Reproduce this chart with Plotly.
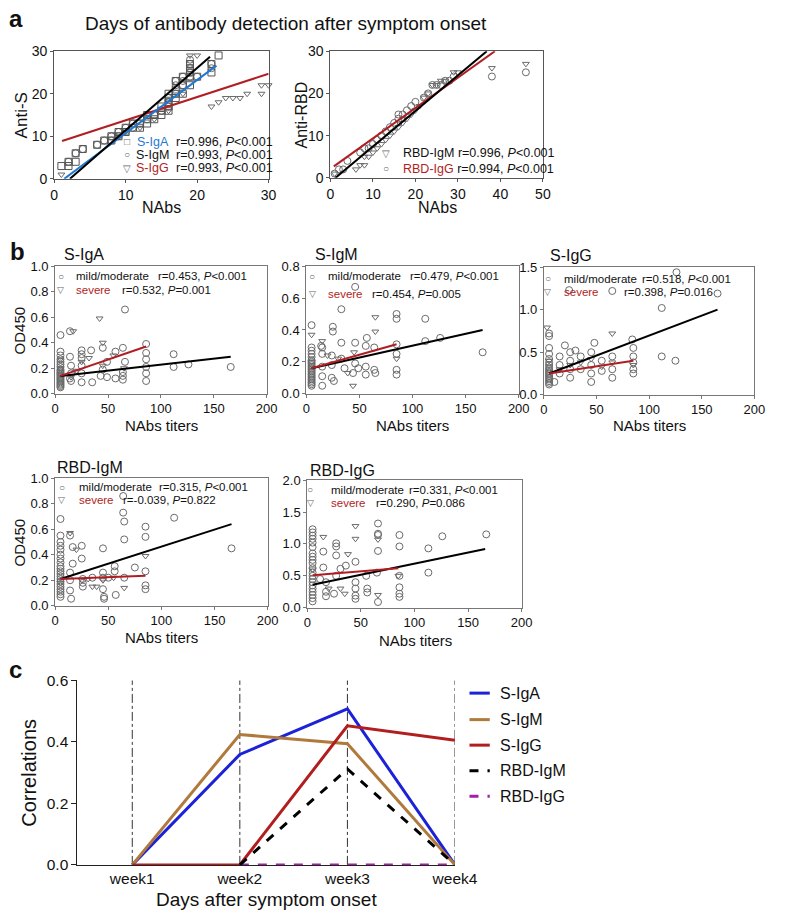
import plotly.graph_objects as go

W, H = 788, 920
FONT = "Liberation Sans, Arial, Helvetica, sans-serif"
GRAY = "#6a6a6a"
RED = "#b01e23"
BLUE_A = "#1f78d1"

# ---------------- Panel a data ----------------
a1_IgA_x = [1, 2, 2, 3, 3, 4, 6, 7, 8, 8, 9, 9, 10, 10, 11, 11, 12, 12, 13, 13, 13, 14, 14, 15, 15, 15,
            16, 16, 16, 16, 16, 17, 17, 17, 17, 18, 18, 18, 19, 19, 19, 19, 19, 20, 22, 22, 23]
a1_IgA_y = [3, 3, 4, 4, 6, 7, 8, 9, 10, 9, 11, 10, 12, 11, 12, 13, 12, 13, 13, 14, 15, 14, 15, 15, 16, 17,
            16, 17, 18, 19, 20, 19, 20, 21, 23, 20, 22, 24, 22, 24, 25, 26, 27, 24, 25, 27, 29]
a1_IgM_x = [2, 3, 4, 6, 7, 8, 8, 9, 9, 10, 10, 11, 11, 12, 13, 13, 14, 15, 16, 16, 16, 17, 17, 17, 18, 18,
            18, 19, 19, 19, 19, 19, 20, 22, 22]
a1_IgM_y = [4, 6, 7, 8, 9, 9, 10, 10, 11, 11, 12, 12, 13, 13, 14, 15, 15, 16, 17, 18, 19, 20, 22, 23, 22, 23,
            24, 24, 25, 26, 27, 28, 24, 26, 27]
a1_IgG_x = [1, 9, 10, 12, 14, 16, 18, 19, 20, 22, 23, 24, 25, 26, 27, 29, 29, 30]
a1_IgG_y = [1, 10, 11, 12, 14, 16, 20, 29, 29, 17, 18, 19, 19, 19, 20, 20, 22, 22]
a1_fit_IgA_x, a1_fit_IgA_y = [1.4, 22.7], [0, 26.6]
a1_fit_IgM_x, a1_fit_IgM_y = [2.2, 21.8], [0, 28.7]
a1_fit_IgG_x, a1_fit_IgG_y = [1.1, 30], [8.9, 24.7]

a2_IgG_x = [1, 2, 3, 4, 7, 8, 9, 10, 11, 12, 13, 14, 15, 16, 16, 17, 18, 19, 20, 22, 23, 24, 25, 26, 27, 28, 29, 38, 46]
a2_IgG_y = [1, 2, 2, 4, 6, 7, 7, 8, 9, 10, 11, 12, 13, 14, 15, 15, 16, 17, 18, 19, 20, 22, 22, 22, 23, 23, 24, 24, 25]
a2_IgM_x = [1, 6, 7, 8, 8, 9, 10, 11, 12, 13, 14, 15, 16, 17, 18, 19, 20, 21, 22, 23, 24, 25, 26, 27, 29, 30, 38, 46]
a2_IgM_y = [1, 2, 3, 3, 5, 5, 6, 7, 8, 9, 10, 11, 12, 13, 14, 15, 16, 17, 19, 20, 22, 22, 23, 23, 25, 25, 26, 27]
a2_fit_IgM_x, a2_fit_IgM_y = [1.2, 36.8], [0, 30]
a2_fit_IgG_x, a2_fit_IgG_y = [0.8, 38.7], [2.7, 30]

# ---------------- Panel b data ----------------
b1_mild_x = [5]*22 + [14, 14, 15, 15, 14, 15, 25, 25, 25, 25, 25, 25, 34, 35, 43, 45, 45, 49, 49, 57, 57, 64,
                      64, 64, 64, 66, 66, 86, 86, 86, 86, 86, 86, 112, 112, 126, 166]
b1_mild_y = [0.46, 0.33, 0.30, 0.27, 0.25, 0.23, 0.21, 0.19, 0.18, 0.17, 0.16, 0.15, 0.14, 0.13, 0.12, 0.11,
             0.10, 0.09, 0.08, 0.07, 0.06, 0.05,
             0.49, 0.29, 0.22, 0.16, 0.12, 0.10, 0.34, 0.31, 0.28, 0.22, 0.16, 0.09, 0.34, 0.09, 0.14, 0.36,
             0.19, 0.25, 0.13, 0.33, 0.12, 0.36, 0.17, 0.14, 0.11, 0.25, 0.66, 0.39, 0.32, 0.27, 0.21, 0.16,
             0.10, 0.31, 0.21, 0.23, 0.21]
b1_sev_x = [5, 17, 42, 45, 32, 5, 5, 15, 25, 45, 55, 65, 20]
b1_sev_y = [0.27, 0.49, 0.59, 0.40, 0.28, 0.20, 0.15, 0.13, 0.25, 0.22, 0.30, 0.20, 0.18]
b1_fit_mild_x, b1_fit_mild_y = [5, 166], [0.14, 0.29]
b1_fit_sev_x, b1_fit_sev_y = [5, 86], [0.14, 0.37]

b2_mild_x = [5]*22 + [46, 33, 85, 85, 112, 25, 25, 15, 14, 33, 46, 57, 64, 126, 112, 166, 15, 15, 15, 15, 24,
                      24, 24, 26, 33, 36, 44, 46, 49, 56, 56, 56, 64, 65, 85, 85, 85, 85]
b2_mild_y = [0.43, 0.29, 0.27, 0.25, 0.23, 0.21, 0.20, 0.19, 0.18, 0.17, 0.16, 0.15, 0.14, 0.13, 0.12, 0.11,
             0.10, 0.09, 0.08, 0.07, 0.06, 0.05,
             0.67, 0.53, 0.50, 0.47, 0.47, 0.42, 0.39, 0.29, 0.30, 0.32, 0.32, 0.35, 0.29, 0.35, 0.33, 0.26,
             0.25, 0.17, 0.11, 0.05, 0.24, 0.18, 0.10, 0.08, 0.22, 0.16, 0.13, 0.19, 0.16, 0.30, 0.17, 0.12,
             0.15, 0.13, 0.31, 0.25, 0.15, 0.12]
b2_sev_x = [5, 65, 65, 15, 39, 44, 30, 5, 20, 45, 85]
b2_sev_y = [0.37, 0.48, 0.39, 0.33, 0.13, 0.05, 0.22, 0.20, 0.24, 0.26, 0.22]
b2_fit_mild_x, b2_fit_mild_y = [5, 166], [0.16, 0.40]
b2_fit_sev_x, b2_fit_sev_y = [5, 85], [0.16, 0.31]

b3_mild_x = [5]*18 + [24, 65, 112, 165, 126, 48, 84, 15, 15, 15, 25, 25, 25, 25, 35, 35, 45, 45, 45, 45, 55, 55,
                      65, 65, 65, 85, 85, 85, 85, 85, 112, 125, 10, 30, 20]
b3_mild_y = [0.72, 0.69, 0.55, 0.48, 0.42, 0.38, 0.35, 0.32, 0.30, 0.28, 0.26, 0.24, 0.22, 0.20, 0.18, 0.16,
             0.14, 0.12,
             1.23, 1.22, 1.02, 1.19, 1.44, 0.61, 0.65, 0.45, 0.35, 0.25, 0.50, 0.40, 0.30, 0.20, 0.45, 0.30,
             0.50, 0.35, 0.25, 0.15, 0.40, 0.28, 0.45, 0.30, 0.20, 0.55, 0.45, 0.38, 0.30, 0.25, 0.45, 0.40,
             0.15, 0.52, 0.58]
b3_sev_x = [3, 65, 5, 15, 25, 35, 45, 55, 65, 85]
b3_sev_y = [0.79, 0.72, 0.40, 0.30, 0.35, 0.38, 0.42, 0.33, 0.38, 0.35]
b3_fit_mild_x, b3_fit_mild_y = [5, 165], [0.25, 1.00]
b3_fit_sev_x, b3_fit_sev_y = [5, 85], [0.25, 0.40]

b4_mild_x = [5]*21 + [64, 14, 16.5, 25, 25, 16.5, 14, 14, 14, 15, 26, 26, 26, 45, 45, 45, 45, 46, 46, 57, 56, 56,
                      64, 65, 65, 65, 85, 85, 85, 85, 85, 112, 166, 35, 50, 75]
b4_mild_y = [0.68, 0.55, 0.50, 0.47, 0.44, 0.40, 0.37, 0.34, 0.31, 0.29, 0.27, 0.25, 0.23, 0.21, 0.19, 0.17,
             0.15, 0.13, 0.11, 0.09, 0.07,
             0.86, 0.55, 0.46, 0.47, 0.37, 0.33, 0.26, 0.20, 0.12, 0.055, 0.21, 0.18, 0.15, 0.45, 0.26, 0.22,
             0.13, 0.07, 0.055, 0.085, 0.31, 0.27, 0.73, 0.66, 0.52, 0.22, 0.62, 0.54, 0.27, 0.16, 0.13, 0.69,
             0.45, 0.22, 0.22, 0.30]
b4_sev_x = [14, 20, 31, 35, 39, 65, 85, 5, 25, 45, 55]
b4_sev_y = [0.57, 0.44, 0.21, 0.15, 0.15, 0.14, 0.39, 0.18, 0.20, 0.20, 0.22]
b4_fit_mild_x, b4_fit_mild_y = [5, 166], [0.21, 0.64]
b4_fit_sev_x, b4_fit_sev_y = [5, 85], [0.21, 0.236]

b5_mild_x = [5]*21 + [66, 66, 66, 66, 86, 86, 126, 113, 113, 167, 27, 27, 27, 45, 36, 31, 56, 56, 66, 86, 86, 86,
                      86, 45, 45, 45, 45, 27, 17.5, 17.5, 17.5, 15, 15, 12, 55, 65, 25]
b5_mild_y = [1.23, 1.18, 1.13, 1.08, 1.02, 0.95, 0.85, 0.80, 0.75, 0.70, 0.62, 0.55, 0.50, 0.45, 0.40, 0.35,
             0.30, 0.25, 0.20, 0.15, 0.10,
             1.32, 1.16, 1.14, 0.89, 1.14, 0.96, 1.12, 0.93, 0.55, 1.15, 1.01, 0.96, 0.82, 0.72, 0.66, 0.61,
             0.30, 0.24, 0.09, 0.50, 0.32, 0.22, 0.17, 0.40, 0.30, 0.19, 0.14, 0.50, 0.40, 0.25, 0.18, 0.88,
             0.63, 0.45, 0.50, 0.55, 0.22]
b5_sev_x = [15, 45, 45, 66, 38, 66, 31, 35, 5, 20, 85]
b5_sev_y = [1.11, 1.28, 1.08, 1.07, 0.84, 0.20, 0.30, 0.22, 0.60, 0.30, 0.50]
b5_fit_mild_x, b5_fit_mild_y = [5, 166], [0.36, 0.92]
b5_fit_sev_x, b5_fit_sev_y = [5, 85], [0.51, 0.62]

# ---------------- Panel c data ----------------
weeks = ["week1", "week2", "week3", "week4"]
corr_S_IgA = [0, 0.359, 0.507, 0]
corr_S_IgM = [0, 0.424, 0.394, 0]
corr_S_IgG = [0, 0, 0.452, 0.405]
corr_RBD_IgM = [None, 0, 0.312, 0]
corr_RBD_IgG = [None, 0, 0, 0]

# ---------------- layout helpers ----------------
def px(x):
    return x / W

def py(y):
    return 1 - y / H

layout = dict(width=W, height=H, margin=dict(l=0, r=0, t=0, b=0), paper_bgcolor="white",
              plot_bgcolor="white", showlegend=False, font=dict(family=FONT, color="#111"))

def add_axes(n, box, xr, yr, xt, yt, yfmt=None, tsize=14, mirror=True, xtext=None, lc="#555"):
    l, r, t, b = box
    xk = "xaxis" if n == 1 else f"xaxis{n}"
    yk = "yaxis" if n == 1 else f"yaxis{n}"
    common = dict(showline=True, linecolor=lc, linewidth=1, ticks="outside", ticklen=3,
                  tickcolor=lc, showgrid=False, zeroline=False, mirror=mirror,
                  tickfont=dict(size=tsize, family=FONT, color="#111"))
    xa = dict(domain=[px(l), px(r)], range=xr, anchor=f"y{'' if n == 1 else n}",
              tickvals=xt, **common)
    if xtext is not None:
        xa["ticktext"] = xtext
    ya = dict(domain=[py(b), py(t)], range=yr, anchor=f"x{'' if n == 1 else n}",
              tickvals=yt, **common)
    if yfmt:
        ya["tickformat"] = yfmt
    layout[xk] = xa
    layout[yk] = ya

add_axes(1, (52, 274, 43, 173), [0, 30], [0, 30], [0, 10, 20, 30], [0, 10, 20, 30], tsize=14)
add_axes(2, (338, 558, 43, 172), [0, 50], [0, 30], [0, 10, 20, 30, 40, 50], [0, 10, 20, 30], tsize=14)
bx = [0, 50, 100, 150, 200]
add_axes(3, (53, 272, 262, 392), [0, 200], [0, 1.0], bx, [0, 0.2, 0.4, 0.6, 0.8, 1.0], ".1f", 13, lc="#777")
add_axes(4, (313, 533, 262, 392), [0, 200], [0, 0.8], bx, [0, 0.2, 0.4, 0.6, 0.8], ".1f", 13, lc="#777")
add_axes(5, (559, 777, 263, 393), [0, 200], [0, 1.5], bx, [0, 0.5, 1.0, 1.5], ".1f", 13, lc="#777")
add_axes(6, (53, 273, 478, 608), [0, 200], [0, 1.0], bx, [0, 0.2, 0.4, 0.6, 0.8, 1.0], ".1f", 13, lc="#777")
add_axes(7, (314, 536, 480, 610), [0, 200], [0, 2.0], bx, [0, 0.5, 1.0, 1.5, 2.0], ".1f", 13, lc="#777")
add_axes(8, (76, 467, 684, 872), [-0.51, 3.0], [0, 0.6], [0, 1, 2, 3], [0, 0.2, 0.4, 0.6], ".1f", 15.5,
         mirror=False, xtext=weeks, lc="#222")
layout["xaxis8"]["ticks"] = ""
layout["yaxis8"]["ticklen"] = 5

fig = go.Figure(layout=layout)

def xy(n):
    return ("x" if n == 1 else f"x{n}"), ("y" if n == 1 else f"y{n}")

def pts(n, x, y, sym, size=7, color=GRAY):
    xa, ya = xy(n)
    fig.add_trace(go.Scatter(x=x, y=y, xaxis=xa, yaxis=ya, mode="markers", cliponaxis=False,
                             marker=dict(symbol=sym, size=size, color=color, line=dict(width=1, color=color))))

def line(n, x, y, color, width=2, dash="solid"):
    xa, ya = xy(n)
    fig.add_trace(go.Scatter(x=x, y=y, xaxis=xa, yaxis=ya, mode="lines", cliponaxis=False,
                             line=dict(color=color, width=width, dash=dash)))

# panel a
pts(1, a1_IgG_x, a1_IgG_y, "triangle-down-open", 6)
pts(1, a1_IgM_x, a1_IgM_y, "circle-open", 7)
pts(1, a1_IgA_x, a1_IgA_y, "square-open", 7, "#555")
line(1, a1_fit_IgG_x, a1_fit_IgG_y, RED)
line(1, a1_fit_IgA_x, a1_fit_IgA_y, BLUE_A)
line(1, a1_fit_IgM_x, a1_fit_IgM_y, "#000")

pts(2, a2_IgM_x, a2_IgM_y, "triangle-down-open", 6)
pts(2, a2_IgG_x, a2_IgG_y, "circle-open", 7)
line(2, a2_fit_IgG_x, a2_fit_IgG_y, RED)
line(2, a2_fit_IgM_x, a2_fit_IgM_y, "#000")

# panel b
bsets = [
    (3, b1_mild_x, b1_mild_y, b1_sev_x, b1_sev_y, b1_fit_mild_x, b1_fit_mild_y, b1_fit_sev_x, b1_fit_sev_y),
    (4, b2_mild_x, b2_mild_y, b2_sev_x, b2_sev_y, b2_fit_mild_x, b2_fit_mild_y, b2_fit_sev_x, b2_fit_sev_y),
    (5, b3_mild_x, b3_mild_y, b3_sev_x, b3_sev_y, b3_fit_mild_x, b3_fit_mild_y, b3_fit_sev_x, b3_fit_sev_y),
    (6, b4_mild_x, b4_mild_y, b4_sev_x, b4_sev_y, b4_fit_mild_x, b4_fit_mild_y, b4_fit_sev_x, b4_fit_sev_y),
    (7, b5_mild_x, b5_mild_y, b5_sev_x, b5_sev_y, b5_fit_mild_x, b5_fit_mild_y, b5_fit_sev_x, b5_fit_sev_y),
]
for n, mx, my, sx, sy, fmx, fmy, fsx, fsy in bsets:
    pts(n, mx, my, "circle-open", 7)
    pts(n, sx, sy, "triangle-down-open", 6)
    line(n, fmx, fmy, "#000", 2)
    line(n, fsx, fsy, RED, 2)

# panel c: vertical dash-dot guides at each category
for i in range(len(weeks)):
    line(8, [i, i], [0, 0.6], "#333", 1, "dashdot")
c_series = [
    ("S-IgA", corr_S_IgA, "#1c22d8", "solid"),
    ("S-IgM", corr_S_IgM, "#b07a3c", "solid"),
    ("RBD-IgG", corr_RBD_IgG, "#a020a8", "dash"),
    ("S-IgG", corr_S_IgG, "#b21e1e", "solid"),
    ("RBD-IgM", corr_RBD_IgM, "#000000", "dash"),
]
for name, vals, col, dash in c_series:
    line(8, list(range(len(weeks))), vals, col, 3, dash)

# ---------------- text ----------------
anns = []
shapes = []

def T(x, y, text, size=12, color="#111", xa="left", ya="middle", angle=0, bold=False):
    if bold:
        text = f"<b>{text}</b>"
    anns.append(dict(x=px(x), y=py(y), xref="paper", yref="paper", text=text, showarrow=False,
                     xanchor=xa, yanchor=ya, textangle=angle,
                     font=dict(size=size, color=color, family=FONT)))

# panel letters & title
T(3, 10, "a", 24, bold=True)
T(4, 247, "b", 24, bold=True)
T(3, 673, "c", 24, bold=True)
T(292, 15, "Days of antibody detection after symptom onset", 19, xa="center")

# panel a labels
T(18, 108, "Anti-S", 17, xa="center", angle=-90)
T(163, 202, "NAbs", 16, xa="center")
T(308, 108, "Anti-RBD", 16, xa="center", angle=-90)
T(449, 202, "NAbs", 16, xa="center")

sym_col = "#666"
rows_a1 = [("□", "S-IgA", BLUE_A, "r=0.996, <i>P</i>&lt;0.001", 135),
           ("○", "S-IgM", "#111", "r=0.993, <i>P</i>&lt;0.001", 148.5),
           ("▽", "S-IgG", RED, "r=0.993, <i>P</i>&lt;0.001", 162)]
for s, nm, col, st, yy in rows_a1:
    T(127, yy, s, 10, sym_col, xa="center")
    T(173, yy, nm, 12.5, col, xa="right")
    T(176, yy, st, 12.5)
rows_a2 = [("▽", "RBD-IgM", "#111", "r=0.996, <i>P</i>&lt;0.001", 147),
           ("○", "RBD-IgG", RED, "r=0.994, <i>P</i>&lt;0.001", 163)]
for s, nm, col, st, yy in rows_a2:
    T(396, yy, s, 10, sym_col, xa="center")
    T(411, yy, f"<span style='color:{col}'>{nm}</span> {st}", 12.5)

# panel b labels
btitles = [(60, 250, "S-IgA"), (320, 250, "S-IgM"), (563, 251, "S-IgG"),
           (53, 467, "RBD-IgM"), (315, 470, "RBD-IgG")]
for x, y, t in btitles:
    T(x, y, t, 16)
T(17, 327, "OD450", 15, xa="center", angle=-90)
T(17, 543, "OD450", 15, xa="center", angle=-90)
for x, y in [(163, 424), (423, 424), (668, 424), (163, 640), (426, 643)]:
    T(x, y, "NAbs titers", 15, xa="center")

b_leg = [
    # sym_x, name_x, y1, st1_x, st1, y2, st2_x, st2
    (59, 73, 272.5, 157, "r=0.453, <i>P</i>&lt;0.001", 286, 120, "r=0.532, <i>P</i>=0.001"),
    (319, 333, 272.5, 418, "r=0.479, <i>P</i>&lt;0.001", 290, 379, "r=0.454, <i>P</i>=0.005"),
    (563, 578, 275, 659, "r=0.518, <i>P</i>&lt;0.001", 288.5, 640, "r=0.398, <i>P</i>=0.016"),
    (60, 76, 487, 158, "r=0.315, <i>P</i>&lt;0.001", 500, 121, "r=-0.039, <i>P</i>=0.822"),
    (317, 337, 490, 417, "r=0.331, <i>P</i>&lt;0.001", 503, 383, "r=0.290, <i>P</i>=0.086"),
]
for sx, nx, y1, s1x, s1, y2, s2x, s2 in b_leg:
    T(sx, y1, "○", 10, sym_col, xa="center")
    T(sx, y2, "▽", 9, sym_col, xa="center")
    T(nx, y1, "mild/moderate", 11.5)
    T(s1x, y1, s1, 11.5)
    T(nx, y2, "severe", 11.5, RED)
    T(s2x, y2, s2, 11.5)

# panel c labels & legend
T(25, 778, "Correlations", 20, xa="center", angle=-90)
T(272, 907, "Days after symptom onset", 19, xa="center")
leg_rows = [("S-IgA", "#1c22d8", "solid", 697), ("S-IgM", "#b07a3c", "solid", 724),
            ("S-IgG", "#b21e1e", "solid", 750), ("RBD-IgM", "#000000", "dash", 776),
            ("RBD-IgG", "#a020a8", "dash", 802)]
for nm, col, dash, yy in leg_rows:
    shapes.append(dict(type="line", xref="paper", yref="paper", x0=px(482), x1=px(503),
                       y0=py(yy), y1=py(yy), line=dict(color=col, width=3,
                                                       dash="dash" if dash == "dash" else "solid")))
    T(512, yy, nm, 16)

fig.update_layout(annotations=anns, shapes=shapes)
fig.write_html("out.html", config={"displayModeBar": False},
               post_script="document.body.style.margin='0px';")
